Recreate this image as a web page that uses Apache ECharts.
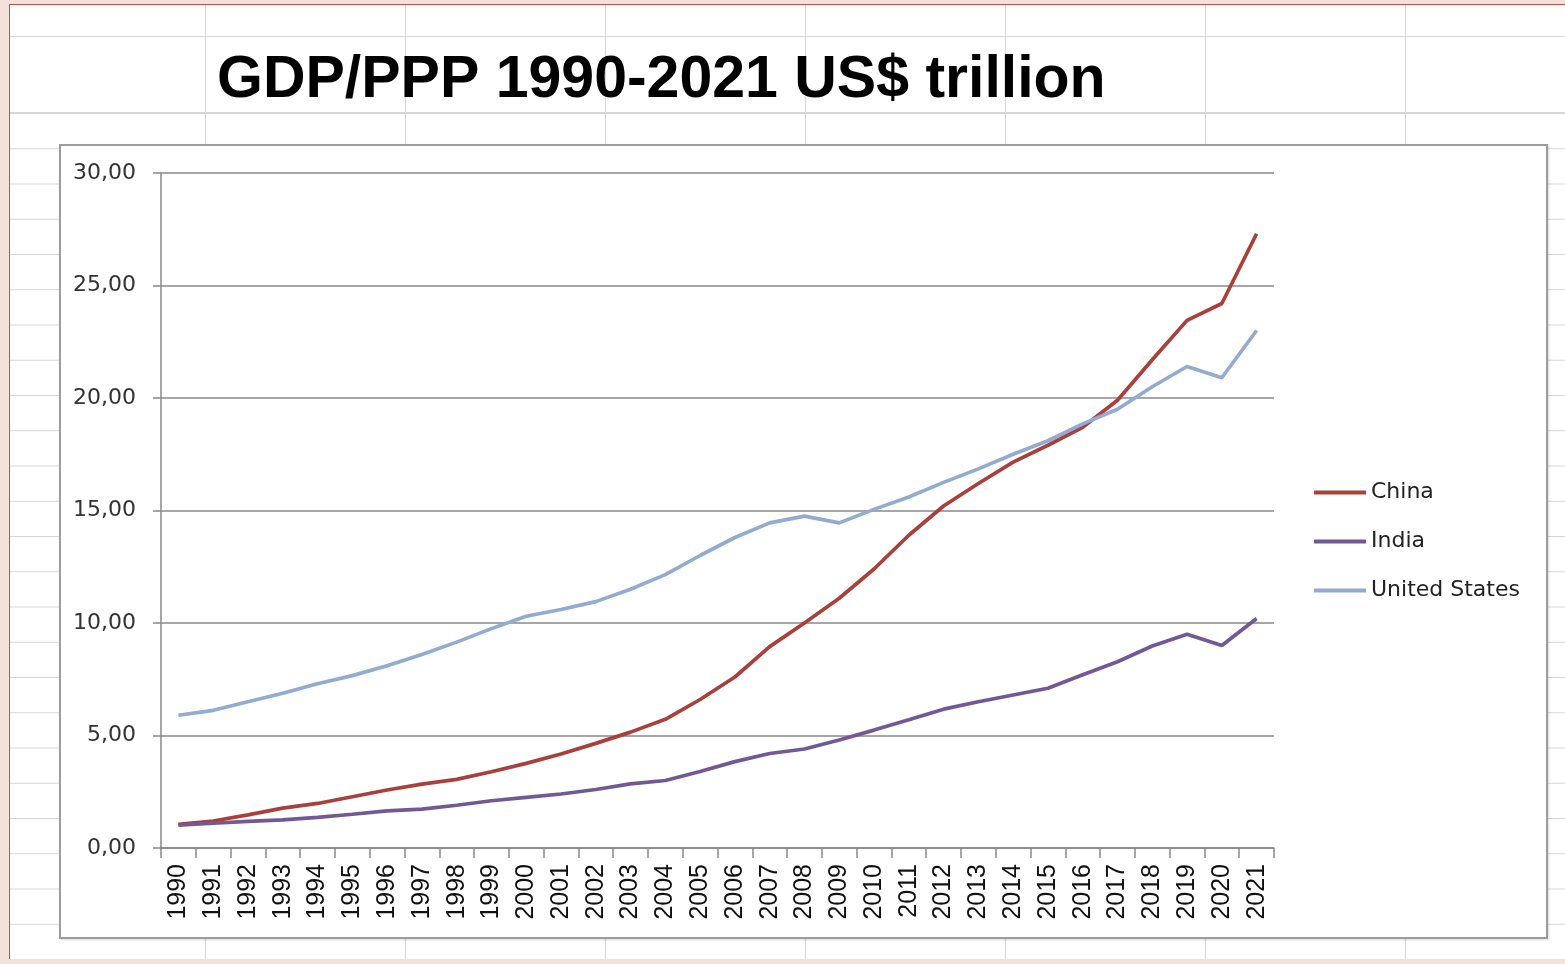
<!DOCTYPE html>
<html>
<head>
<meta charset="utf-8">
<script src="https://cdn.jsdelivr.net/npm/echarts@6/dist/echarts.min.js"></script>
<style>
  html, body { margin:0; padding:0; }
  body { width:1565px; height:964px; background:#f3e2da; overflow:hidden; position:relative; }
  #sheet { position:absolute; left:9px; top:4px; width:1556px; height:954px; background-color:#fff;
    border-left:1px solid #d04a45; border-top:1px solid #d04a45;
    background-image: linear-gradient(to right, #d6d6d6 0, #d6d6d6 1px, transparent 1px),
                      linear-gradient(to bottom, #d6d6d6 0, #d6d6d6 1px, transparent 1px);
    background-size: 200px 100%, 100% 35.25px;
    background-position: 195px 0, 0 108px; }
  #head { position:absolute; left:10px; top:5px; width:1555px; height:107px; background-color:#fff;
    background-image: linear-gradient(to right, #d6d6d6 0, #d6d6d6 1px, transparent 1px);
    background-size: 200px 100%; background-position: 195px 0;
    border-bottom:1px solid #d6d6d6; }
  #head .row { position:absolute; left:0; right:0; top:31px; height:1px; background:#d6d6d6; }
  #box { position:absolute; left:59px; top:144px; width:1485px; height:791px; background:#fff;
    border:2px solid #9c9c9c; box-shadow:1px 1px 2px rgba(0,0,0,0.15); }
  #chart { position:absolute; left:0; top:0; width:1565px; height:964px; }
</style>
</head>
<body>
<div id="sheet"></div>
<div id="head"><div class="row"></div></div>
<div id="box"></div>
<div id="chart"></div>
<script>
const years = ['1990','1991','1992','1993','1994','1995','1996','1997','1998','1999','2000','2001','2002','2003','2004','2005','2006','2007','2008','2009','2010','2011','2012','2013','2014','2015','2016','2017','2018','2019','2020','2021'];
const china = [1.05,1.2,1.47,1.77,1.98,2.28,2.58,2.84,3.05,3.39,3.76,4.18,4.65,5.15,5.72,6.6,7.6,8.95,10.0,11.1,12.4,13.9,15.2,16.2,17.15,17.9,18.7,19.9,21.7,23.45,24.2,27.3];
const india = [1.02,1.1,1.18,1.25,1.36,1.5,1.65,1.73,1.9,2.1,2.25,2.4,2.6,2.85,3.0,3.4,3.84,4.2,4.4,4.8,5.24,5.7,6.17,6.5,6.8,7.1,7.7,8.28,8.98,9.5,9.0,10.2];
const usa = [5.9,6.12,6.5,6.88,7.3,7.66,8.1,8.6,9.15,9.75,10.3,10.6,10.95,11.5,12.15,13.0,13.8,14.45,14.75,14.45,15.05,15.6,16.25,16.85,17.5,18.1,18.85,19.5,20.5,21.4,20.9,23.0];
const seriesNames = ['China','India','United States'];
const titleText = 'GDP/PPP 1990-2021 US$ trillion';

const chart = echarts.init(document.getElementById('chart'), null, {renderer:'canvas'});
const mk = (name, data, color) => ({
  name, type:'line', data, symbol:'none', smooth:false,
  lineStyle:{ color, width:3.7 }, itemStyle:{ color }
});
chart.setOption({
  backgroundColor:'transparent',
  animation:false,
  title:{ text:titleText, left:212, top:46,
    textStyle:{ fontFamily:'Liberation Sans', fontWeight:'bold', fontSize:59, color:'#000' } },
  legend:{ orient:'vertical', left:1309, top:475, itemWidth:52, itemHeight:4, itemGap:24,
    icon:'rect', data:seriesNames,
    textStyle:{ fontFamily:'DejaVu Sans', fontSize:22, color:'#222', lineHeight:25 } },
  grid:{ left:161, right:291, top:173, bottom:116, containLabel:false },
  xAxis:{ type:'category', data:years, boundaryGap:true,
    axisLine:{ lineStyle:{ color:'#888', width:1.5 } },
    axisTick:{ show:true, length:10, lineStyle:{ color:'#888', width:1.5 } },
    axisLabel:{ rotate:90, interval:0, margin:16, fontFamily:'Liberation Sans', fontSize:25, color:'#111' },
    splitLine:{ show:false } },
  yAxis:{ type:'value', min:0, max:30, interval:5,
    axisLine:{ show:true, lineStyle:{ color:'#888', width:1.5 } },
    axisTick:{ show:true, length:8, lineStyle:{ color:'#888', width:1.5 } },
    axisLabel:{ margin:25, fontFamily:'DejaVu Sans', fontSize:22, color:'#333',
      formatter: v => v.toFixed(2).replace('.', ',') },
    splitLine:{ show:true, lineStyle:{ color:'#888', width:1.5 } } },
  series:[ mk('China', china, '#a8403c'), mk('India', india, '#735994'), mk('United States', usa, '#94abd0') ]
});
</script>
</body>
</html>
